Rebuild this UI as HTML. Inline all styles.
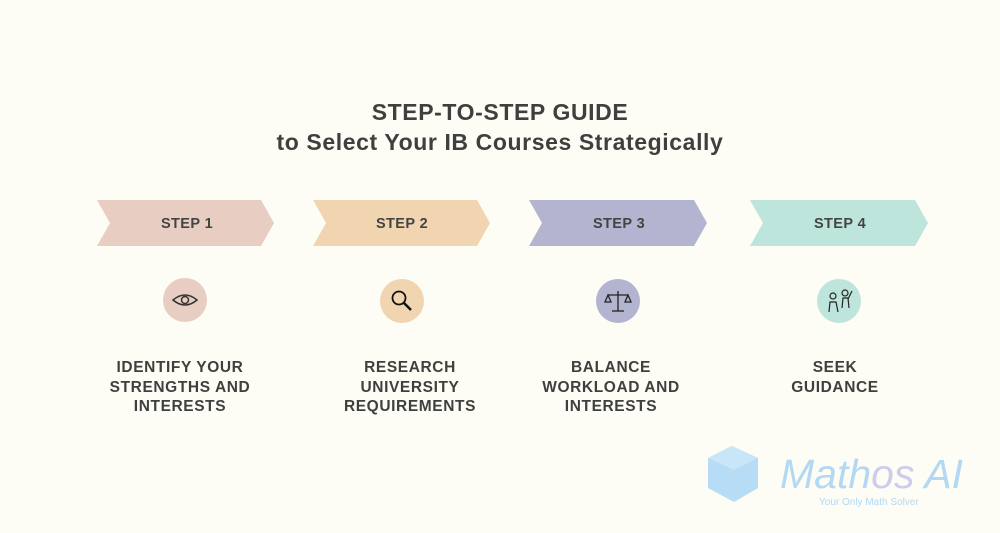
<!DOCTYPE html>
<html><head><style>
body{margin:0;width:1000px;height:533px;background:#fdfdf5;font-family:"Liberation Sans",sans-serif;position:relative;overflow:hidden}
.t{position:absolute;left:0;width:1000px;text-align:center;font-weight:bold;color:#3f3f3f;font-size:23px;letter-spacing:0.6px}
.lab{position:absolute;width:200px;text-align:center;font-weight:bold;color:#3f3f3f;font-size:15.5px;letter-spacing:0.6px;line-height:19.5px;top:358px}
</style></head><body>
<div class="t" style="top:99px">STEP-TO-STEP GUIDE</div>
<div class="t" style="top:129px">to Select Your IB Courses Strategically</div>
<svg width="1000" height="533" style="position:absolute;left:0;top:0">
<g font-family="Liberation Sans" font-weight="bold" font-size="14.5" fill="#444" text-anchor="middle" letter-spacing="0.4">
<polygon points="97,200 261,200 274,223 261,246 97,246 110,223" fill="#e8cdc2"/>
<text x="187" y="228">STEP 1</text>
<polygon points="313,200 477,200 490,223 477,246 313,246 326,223" fill="#f0d5b0"/>
<text x="402" y="228">STEP 2</text>
<polygon points="529,200 694,200 707,223 694,246 529,246 542,223" fill="#b3b4cf"/>
<text x="619" y="228">STEP 3</text>
<polygon points="750,200 915,200 928,223 915,246 750,246 763,223" fill="#bde5dc"/>
<text x="840" y="228">STEP 4</text>
</g>
<circle cx="185" cy="300" r="22" fill="#e8cdc2"/>
<path d="M173,300 Q185,290 197,300 Q185,310 173,300Z" fill="none" stroke="#333" stroke-width="1.5"/>
<circle cx="185" cy="300" r="3.5" fill="none" stroke="#333" stroke-width="1.5"/>
<circle cx="402" cy="301" r="22" fill="#f0d5b0"/>
<circle cx="399" cy="298" r="6.5" fill="none" stroke="#111" stroke-width="1.8"/>
<line x1="404" y1="303" x2="411" y2="310" stroke="#111" stroke-width="2.5"/>
<circle cx="618" cy="301" r="22" fill="#b3b4cf"/>
<g stroke="#222" stroke-width="1.3" fill="none">
<line x1="618" y1="291" x2="618" y2="311"/><line x1="608" y1="295" x2="628" y2="295"/>
<line x1="612" y1="311" x2="624" y2="311"/>
<path d="M605,302 L608,295 L611,302 Z M625,302 L628,295 L631,302 Z"/></g>
<circle cx="839" cy="301" r="22" fill="#bde5dc"/>
<g stroke="#222" stroke-width="1.2" fill="none">
<circle cx="833" cy="296" r="3"/><path d="M829,312 L830,302 L836,302 L838,312"/>
<circle cx="845" cy="293" r="3"/><path d="M842,308 L843,298 L848,298 L849,308 M848,299 L852,291"/>
</g>
</svg>
<div class="lab" style="left:80px">IDENTIFY YOUR<br>STRENGTHS AND<br>INTERESTS</div>
<div class="lab" style="left:310px">RESEARCH<br>UNIVERSITY<br>REQUIREMENTS</div>
<div class="lab" style="left:511px">BALANCE<br>WORKLOAD AND<br>INTERESTS</div>
<div class="lab" style="left:735px">SEEK<br>GUIDANCE</div>
<svg width="310" height="100" style="position:absolute;left:690px;top:430px">
<polygon points="18,28 42,16 68,28 68,58 44,72 18,58" fill="#b7dcf5"/>
<polygon points="18,28 42,16 68,28 44,40" fill="#c9e5f8"/>
<text x="90" y="58" font-family="Liberation Sans" font-style="italic" font-size="41" fill="#b3d8f3">Math<tspan fill="#cfcbed">os</tspan> AI</text>
<text x="129" y="75" font-family="Liberation Sans" font-size="10" fill="#b3d8f3">Your Only Math Solver</text>
</svg>
</body></html>
